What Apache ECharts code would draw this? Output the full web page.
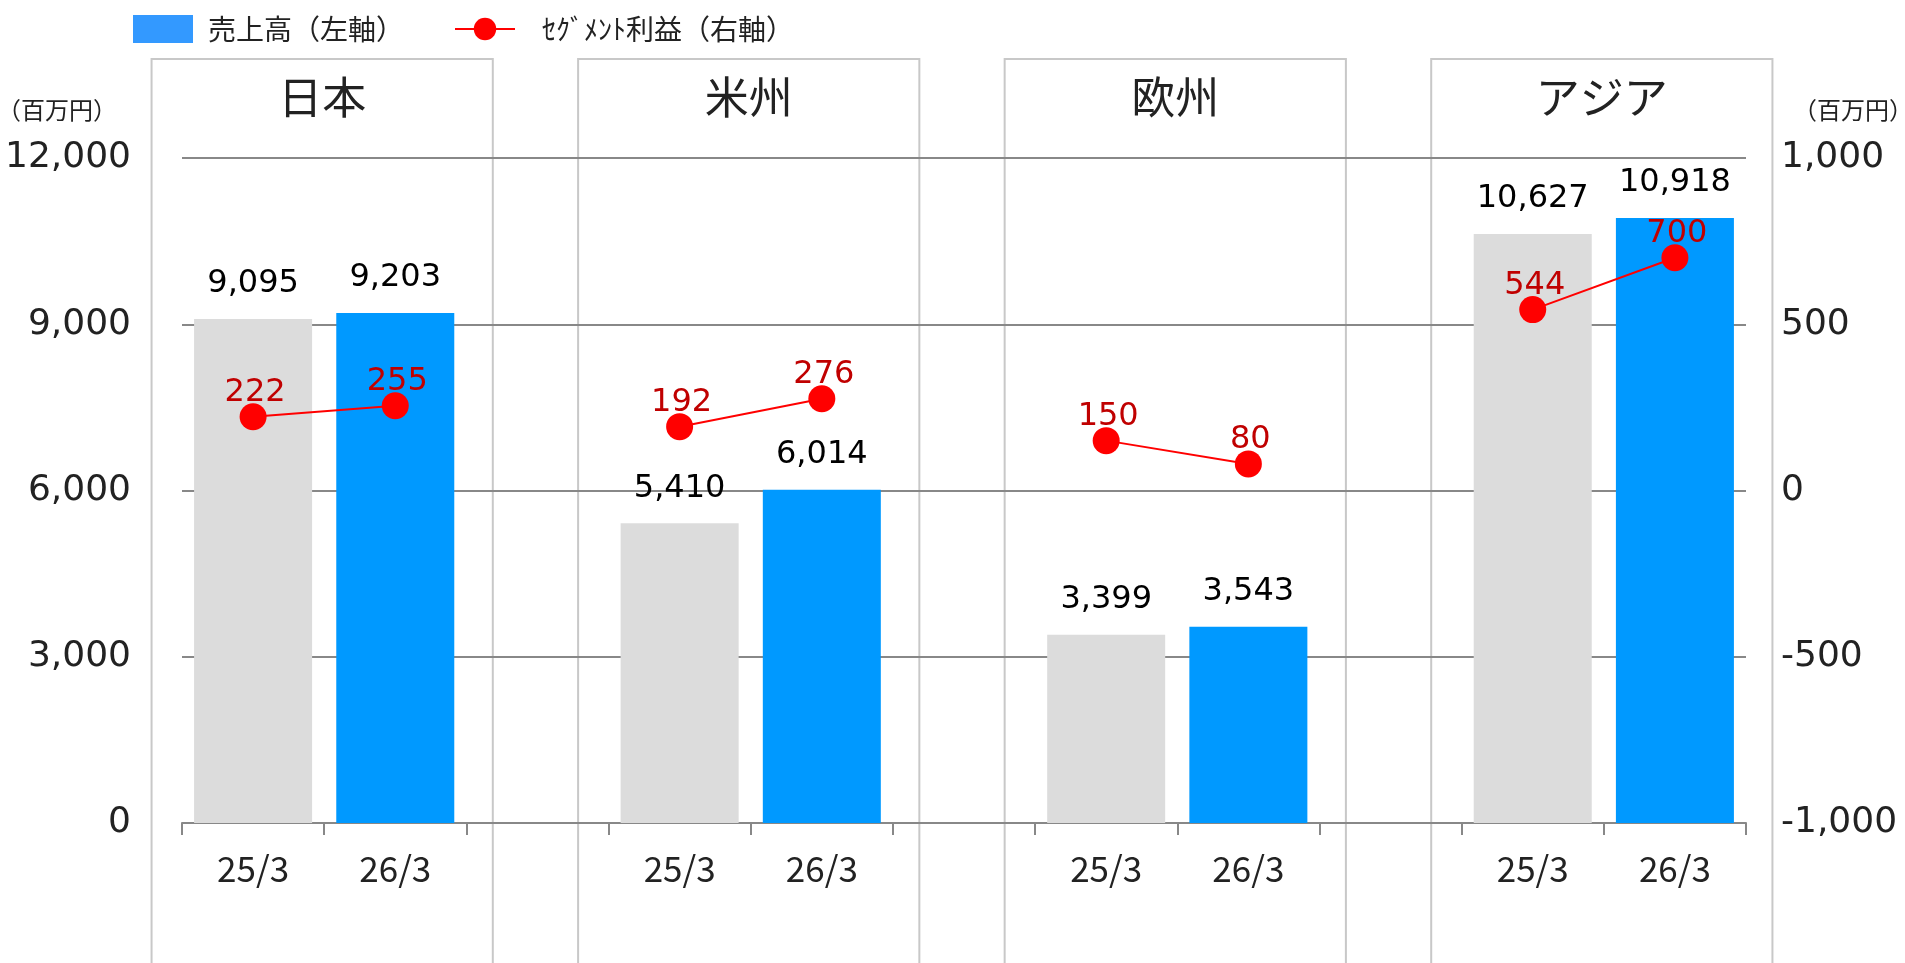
<!DOCTYPE html>
<html>
<head>
<meta charset="utf-8">
<title>セグメント別 売上高・利益</title>
<script src="https://cdn.jsdelivr.net/npm/echarts@6/dist/echarts.min.js"></script>
<style>
  html, body { margin: 0; padding: 0; background: #fff; }
  #main { width: 1905px; height: 963px; }
</style>
</head>
<body>
<div id="main"></div>
<script>
// segment data (百万円)
const regions = ['日本', '米州', '欧州', 'アジア'];
const periods = ['25/3', '26/3'];
const salesPrev = [9095, 5410, 3399, 10627];
const salesCur = [9203, 6014, 3543, 10918];
const profitPrev = [222, 192, 150, 544];
const profitCur = [255, 276, 80, 700];
const leftTicks = [0, 3000, 6000, 9000, 12000];
const rightTicks = [-1000, -500, 0, 500, 1000];

// one empty slot between region pairs
const categories = [];
const prevData = [];
const curData = [];
const profitData = [];
regions.forEach((r, i) => {
  categories.push(periods[0], periods[1]);
  prevData.push(salesPrev[i], '-');
  curData.push('-', salesCur[i]);
  profitData.push(profitPrev[i], profitCur[i]);
  if (i < regions.length - 1) {
    categories.push('');
    prevData.push('-');
    curData.push('-');
    profitData.push('-');
  }
});

const numFont = 'DejaVu Sans, Verdana, sans-serif';
const jpFont = '"Noto Sans CJK JP", sans-serif';
const fmt = v => Number(v).toLocaleString('en-US');

const barLabel = {
  show: true,
  position: 'top',
  distance: 19,
  color: '#000',
  fontFamily: numFont,
  fontSize: 32,
  formatter: p => fmt(p.value)
};

const option = {
  animation: false,
  legend: {
    left: 128,
    top: 10,
    itemWidth: 60,
    itemHeight: 28,
    itemGap: 50,
    textStyle: { fontFamily: jpFont, fontSize: 28, color: '#222' },
    data: [
      {
        name: '売上高（左軸）',
        icon: 'rect',
        itemStyle: { color: '#3399ff' },
        textStyle: { padding: [0, 0, 0, 10] }
      },
      {
        name: 'ｾｸﾞﾒﾝﾄ利益（右軸）',
        textStyle: { padding: [0, 0, 0, 22] }
      }
    ]
  },
  grid: { left: 182, right: 159, top: 158, bottom: 140, containLabel: false, outerBoundsMode: 'none' },
  xAxis: {
    type: 'category',
    data: categories,
    axisLine: { lineStyle: { color: '#888', width: 2 } },
    axisTick: { show: true, length: 12, lineStyle: { color: '#888', width: 2 } },
    axisLabel: { margin: 28, color: '#222', fontFamily: jpFont, fontSize: 35, interval: 0 }
  },
  yAxis: [
    {
      type: 'value',
      min: leftTicks[0],
      max: leftTicks[leftTicks.length - 1],
      interval: leftTicks[1] - leftTicks[0],
      name: '（百万円）',
      nameGap: 36,
      nameTextStyle: { fontFamily: jpFont, fontSize: 24, color: '#222', align: 'right', padding: [0, 65, 0, 0] },
      axisLine: { show: false },
      axisTick: { show: false },
      axisLabel: { margin: 51, color: '#222', fontFamily: numFont, fontSize: 36, formatter: fmt },
      splitLine: { lineStyle: { color: '#888', width: 2 } }
    },
    {
      type: 'value',
      min: rightTicks[0],
      max: rightTicks[rightTicks.length - 1],
      interval: rightTicks[1] - rightTicks[0],
      name: '（百万円）',
      nameGap: 36,
      nameTextStyle: { fontFamily: jpFont, fontSize: 24, color: '#222', align: 'left', padding: [0, 0, 0, 47] },
      axisLine: { show: false },
      axisTick: { show: false },
      axisLabel: { margin: 35, color: '#222', fontFamily: numFont, fontSize: 36, formatter: fmt },
      splitLine: { show: false }
    }
  ],
  series: [
    {
      name: '売上高（前期）',
      type: 'bar',
      barWidth: '83%',
      barGap: '-100%',
      itemStyle: { color: '#dcdcdc' },
      label: barLabel,
      data: prevData
    },
    {
      name: '売上高（左軸）',
      type: 'bar',
      barWidth: '83%',
      barGap: '-100%',
      itemStyle: { color: '#0099ff' },
      label: barLabel,
      data: curData
    },
    {
      name: 'ｾｸﾞﾒﾝﾄ利益（右軸）',
      type: 'line',
      yAxisIndex: 1,
      symbol: 'circle',
      symbolSize: 27,
      connectNulls: false,
      lineStyle: { color: '#ff0000', width: 2 },
      itemStyle: { color: '#ff0000' },
      label: {
        show: true,
        position: 'inside',
        offset: [2, -24],
        color: '#c00000',
        fontFamily: numFont,
        fontSize: 32
      },
      z: 5,
      data: profitData
    }
  ]
};

const chart = echarts.init(document.getElementById('main'));
chart.setOption(option);

// region frames around each pair of bars
function drawRegionBoxes() {
  const step = chart.convertToPixel({ xAxisIndex: 0 }, 1) - chart.convertToPixel({ xAxisIndex: 0 }, 0);
  const half = step * 1.2;
  const elements = [];
  regions.forEach((r, i) => {
    const a = chart.convertToPixel({ xAxisIndex: 0 }, i * 3);
    const b = chart.convertToPixel({ xAxisIndex: 0 }, i * 3 + 1);
    const cx = (a + b) / 2 - 2;
    elements.push({
      type: 'rect',
      z: -10,
      silent: true,
      shape: { x: cx - half, y: 59, width: half * 2, height: 960 },
      style: { fill: 'none', stroke: '#c8c8c8', lineWidth: 2 }
    });
    elements.push({
      type: 'text',
      z: -5,
      silent: true,
      x: cx,
      y: 97,
      style: {
        text: r,
        fill: '#222',
        font: '44px ' + jpFont,
        textAlign: 'center',
        textVerticalAlign: 'middle'
      }
    });
  });
  chart.setOption({ graphic: elements });
}
drawRegionBoxes();

window.addEventListener('resize', () => {
  chart.resize();
  drawRegionBoxes();
});
</script>
</body>
</html>
